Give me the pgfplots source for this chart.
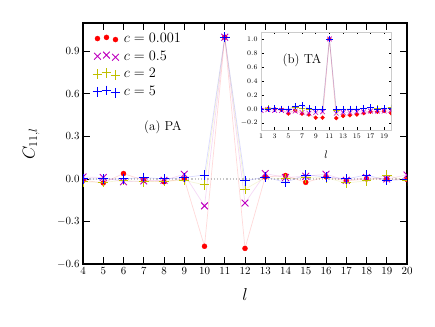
\documentclass[border=0pt]{standalone}
\usepackage{pgfplots}
\pgfplotsset{compat=1.18}
\usepackage{pgfplotstable}

\definecolor{cR}{rgb}{1,0,0}
\definecolor{cM}{rgb}{0.75,0,0.75}
\definecolor{cY}{rgb}{0.75,0.75,0}
\definecolor{cB}{rgb}{0,0,1}

% (a) PA
\pgfplotstableread{
l   ca      cb      cc      cd
4   -0.010  0.014   -0.020  0.000
5   -0.028  0.010   -0.024  0.000
6   0.038   -0.020  -0.010  0.000
7   -0.010  -0.014  -0.020  0.010
8   -0.020  -0.010  -0.015  0.000
9   0.000   0.033   -0.010  0.010
10  -0.475  -0.190  -0.042  0.028
11  1.000   1.000   1.000   1.000
12  -0.490  -0.170  -0.073  -0.014
13  0.014   0.038   0.010   0.014
14  0.024   0.010   0.000   -0.024
15  -0.024  0.019   0.008   0.028
16  0.016   0.033   0.008   0.014
17  -0.014  -0.010  -0.028  0.000
18  0.000   0.010   -0.014  0.028
19  0.000   0.000   0.028   -0.010
20  -0.004  0.028   -0.014  -0.004
}\pa

% (b) TA
\pgfplotstableread{
l   ca      cb      cc      cd
1   0.000   -0.020  0.000   0.000
2   0.000   -0.010  0.010   0.000
3   0.000   -0.020  0.010   0.010
4   -0.010  -0.020  0.000   0.000
5   -0.067  -0.040  0.000   0.000
6   -0.020  -0.030  0.020   0.040
7   -0.067  -0.050  0.010   0.050
8   -0.080  -0.060  0.000   0.010
9   -0.124  -0.050  -0.010  -0.010
10  -0.124  -0.040  0.000   0.000
11  1.000   1.000   1.000   1.000
12  -0.130  -0.060  -0.020  -0.010
13  -0.100  -0.050  0.000   -0.010
14  -0.090  -0.050  0.000   0.000
15  -0.080  -0.040  0.000   0.000
16  -0.060  -0.040  0.010   0.010
17  -0.040  -0.030  0.020   0.020
18  -0.040  -0.030  0.010   0.000
19  -0.030  -0.030  0.010   0.010
20  -0.060  -0.020  0.020   0.010
}\ta

\pgfplotsset{
  faint/.style={line width=0.7pt, draw opacity=0.15, mark=none, forget plot},
}

\begin{document}
\begin{tikzpicture}
\path[use as bounding box] (-83bp,-63bp) rectangle (352bp,264bp);

\begin{axis}[
    scale only axis, width=324bp, height=241bp,
    xmin=4, xmax=20, ymin=-0.6, ymax=1.1,
    xtick={4,...,20}, ytick={-0.6,-0.3,0,0.3,0.6,0.9},
    yticklabel style={/pgf/number format/fixed, /pgf/number format/fixed zerofill, /pgf/number format/precision=1},
    tick label style={font=\fontsize{11}{13}\selectfont},
    tick align=inside, major tick length=7bp,
    tick style={black, line width=0.8pt},
    axis line style={line width=1.5pt},
    clip marker paths=true,
    xlabel={$l$}, ylabel={$C_{11,l}$},
    label style={font=\LARGE},
    xlabel style={at={(axis description cs:0.5,-0.125)}, anchor=center},
    ylabel style={at={(axis description cs:-0.16,0.5)}, anchor=center},
    legend style={at={(axis description cs:0.02,0.975)}, anchor=north west, draw=none, fill=none,
      font=\fontsize{13.5}{15}\selectfont, row sep=3bp},
    legend cell align=left,
    legend image code/.code={\draw[#1] plot coordinates {(0bp,0bp) (9bp,1.2bp) (18bp,-1bp)};
      \path (24bp,0bp);},
]
\addplot[gray!45, dotted, line width=1.2pt, forget plot] coordinates {(4,0) (20,0)};
\addplot[cR, faint] table[x=l, y=ca] {\pa};
\addplot[cM, faint] table[x=l, y=cb] {\pa};
\addplot[cY, faint] table[x=l, y=cc] {\pa};
\addplot[cB, faint] table[x=l, y=cd] {\pa};
\addplot[only marks, mark=*, cR, mark size=2.5bp] table[x=l, y=ca] {\pa};
\addlegendentry{$c=0.001$}
\addplot[only marks, mark=x, cM, mark size=4.8bp, line width=0.9pt] table[x=l, y=cb] {\pa};
\addlegendentry{$c=0.5$}
\addplot[only marks, mark=+, cY, mark size=4.8bp, line width=0.9pt] table[x=l, y=cc] {\pa};
\addlegendentry{$c=2$}
\addplot[only marks, mark=+, cB, mark size=4.8bp, line width=0.9pt] table[x=l, y=cd] {\pa};
\addlegendentry{$c=5$}
\node[font=\fontsize{13}{15}\selectfont] at (axis cs:7.95,0.365) {(a) PA};
\end{axis}

\begin{axis}[
    at={(178bp,134bp)}, anchor=south west,
    scale only axis, width=130bp, height=98bp,
    xmin=1, xmax=20, ymin=-0.3, ymax=1.1,
    xtick={1,3,...,19}, ytick={-0.2,0,0.2,0.4,0.6,0.8,1.0},
    yticklabel style={/pgf/number format/fixed, /pgf/number format/fixed zerofill, /pgf/number format/precision=1},
    tick label style={font=\fontsize{7}{8}\selectfont},
    tick align=inside, major tick length=2.5bp,
    tick style={black, line width=0.5pt},
    axis line style={gray!40, line width=0.6pt},
    clip marker paths=true,
    xlabel={$l$},
    xlabel style={font=\fontsize{11}{13}\selectfont, at={(axis description cs:0.5,-0.255)}, anchor=center},
]
\addplot[cR, faint] table[x=l, y=ca] {\ta};
\addplot[cM, faint] table[x=l, y=cb] {\ta};
\addplot[cY, faint] table[x=l, y=cc] {\ta};
\addplot[cB, faint] table[x=l, y=cd] {\ta};
\addplot[only marks, mark=*, cR, mark size=1.9bp] table[x=l, y=ca] {\ta};
\addplot[only marks, mark=x, cM, mark size=3.3bp, line width=0.6pt] table[x=l, y=cb] {\ta};
\addplot[only marks, mark=+, cY, mark size=3.3bp, line width=0.6pt] table[x=l, y=cc] {\ta};
\addplot[only marks, mark=+, cB, mark size=3.3bp, line width=0.6pt] table[x=l, y=cd] {\ta};
\node[font=\fontsize{13}{15}\selectfont] at (axis cs:7,0.70) {(b) TA};
\end{axis}
\end{tikzpicture}
\end{document}
